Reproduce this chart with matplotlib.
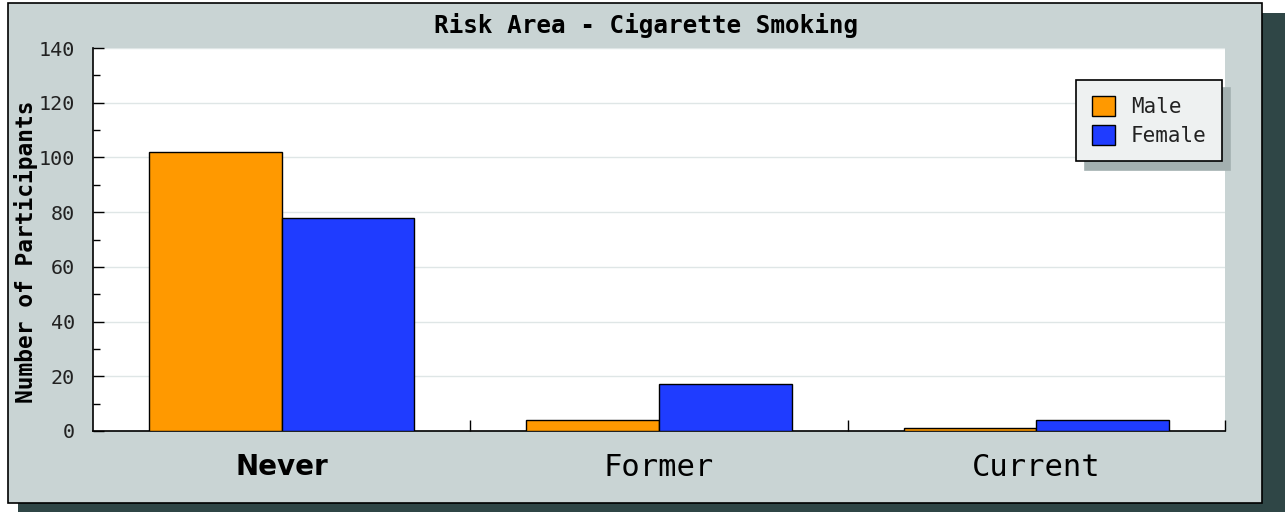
import numpy as np
import matplotlib; matplotlib.use('Agg')
import matplotlib.pyplot as plt
from matplotlib.patches import Rectangle
from matplotlib.ticker import MultipleLocator, FixedLocator

categories = ['Never', 'Former', 'Current']
male = [102, 4, 1]
female = [78, 17, 4]
series_names = ['Male', 'Female']

W, H = 1285, 512
fig = plt.figure(figsize=(W / 100, H / 100), dpi=100)
fig.patch.set_facecolor('white')

def px(x0, y0, x1, y1):
    # pixel box (top-left origin) -> figure fraction rect
    return (x0 / W, 1 - y1 / H, (x1 - x0) / W, (y1 - y0) / H)

# drop shadow + frame
sx, sy, sw, sh = px(18, 13, W, H)
fig.patches.append(Rectangle((sx, sy), sw, sh, transform=fig.transFigure,
                             facecolor='#2f4646', edgecolor='none', zorder=0))
fx, fy, fw, fh = px(8, 3, 1262, 503)
fig.patches.append(Rectangle((fx, fy), fw, fh, transform=fig.transFigure,
                             facecolor='#c9d4d4', edgecolor='black', lw=1.2, zorder=1))

ax = fig.add_axes(px(93, 48, 1225, 431))
ax.set_facecolor('white')
ax.set_zorder(2)

x = np.arange(len(categories))
bw = 0.352
ax.bar(x - bw / 2, male, bw, color='#ff9900', edgecolor='black', lw=1,
       label=series_names[0], zorder=3)
ax.bar(x + bw / 2, female, bw, color='#1f3cff', edgecolor='black', lw=1,
       label=series_names[1], zorder=3)

ax.set_xlim(-0.5, 2.5)
ax.set_ylim(0, 140)
ax.yaxis.set_major_locator(MultipleLocator(20))
ax.yaxis.set_minor_locator(MultipleLocator(10))
ax.grid(axis='y', color='#dfe6e6', lw=1, zorder=0)
ax.set_axisbelow(True)

for s in ['top', 'right']:
    ax.spines[s].set_visible(False)
for s in ['left', 'bottom']:
    ax.spines[s].set_color('black')
    ax.spines[s].set_linewidth(1.2)

ax.tick_params(axis='y', which='major', direction='in', length=8, width=1,
               pad=13, labelsize=14.5, colors='black')
ax.tick_params(axis='y', which='minor', direction='in', length=5, width=1)
for t in ax.get_yticklabels():
    t.set_family('DejaVu Sans Mono')
    t.set_color('#222222')

ax.set_xticks(x)
ax.set_xticklabels(categories)
ax.xaxis.set_minor_locator(FixedLocator([0.5, 1.5, 2.5]))
ax.tick_params(axis='x', which='major', length=0, pad=16)
ax.tick_params(axis='x', which='minor', direction='in', length=8, width=1)
labs = ax.get_xticklabels()
labs[0].set_family('DejaVu Sans'); labs[0].set_fontweight('bold'); labs[0].set_fontsize(20)
for t in labs[1:]:
    t.set_family('DejaVu Sans Mono'); t.set_fontsize(22)

fig.text(0.503, 1 - 26 / H, 'Risk Area - Cigarette Smoking', ha='center', va='center',
         family='DejaVu Sans Mono', fontweight='bold', fontsize=17.5, zorder=5)
fig.text(26 / W, 1 - 252 / H, 'Number of Participants', ha='center', va='center',
         rotation=90, family='DejaVu Sans Mono', fontweight='bold', fontsize=16.5, zorder=5)

leg = ax.legend(loc='upper right', bbox_to_anchor=(1222 / W, 1 - 80 / H),
                bbox_transform=fig.transFigure, fancybox=False,
                shadow={'color': '#a3b0b0', 'alpha': 1, 'ox': 6, 'oy': -6},
                prop={'family': 'DejaVu Sans Mono', 'size': 15},
                handlelength=1.1, handleheight=1.1, handletextpad=0.75,
                borderpad=0.75, labelspacing=0.38, borderaxespad=0)
leg.get_frame().set_facecolor('#eef1f1')
leg.get_frame().set_edgecolor('black')
leg.get_frame().set_linewidth(1.2)
leg.get_frame().set_alpha(1)
for t in leg.get_texts():
    t.set_color('#222222')

fig.savefig('out.png', dpi=100)
